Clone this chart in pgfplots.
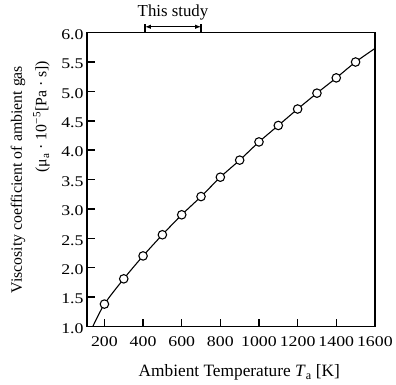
\documentclass[border=0pt]{standalone}
\usepackage{fontspec}
\setmainfont{Liberation Serif}
\newfontfamily\tickfont{Liberation Serif}[FakeStretch=1.2]
\usepackage{pgfplots}
\pgfplotsset{compat=1.18}
\usetikzlibrary{arrows.meta}
\pgfplotstableread{
T mu
200 1.38
300 1.81
400 2.20
500 2.56
600 2.90
700 3.21
800 3.54
900 3.83
1000 4.14
1100 4.42
1200 4.70
1300 4.97
1400 5.23
1500 5.50
}\datapts
\pgfplotstableread{
T mu
140 1.00
200 1.38
300 1.81
400 2.20
500 2.56
600 2.90
700 3.21
800 3.54
900 3.83
1000 4.14
1100 4.42
1200 4.70
1300 4.97
1400 5.23
1500 5.50
1600 5.73
}\curvepts
\begin{document}
\begin{tikzpicture}
\begin{axis}[
  scale only axis, width=291pt, height=297pt,
  xmin=110, xmax=1600, ymin=1, ymax=6,
  clip=false, axis on top,
  xtick={200,400,600,800,1000,1200,1400,1600},
  ytick={1,1.5,2,2.5,3,3.5,4,4.5,5,5.5,6},
  tick align=inside, xtick pos=bottom, ytick pos=left,
  major tick length=8pt,
  axis line style={line width=1.6pt},
  every tick/.style={black, line width=1.5pt},
  xticklabel style={font=\tickfont\fontsize{15}{17}\selectfont, yshift=-7pt, /pgf/number format/.cd, fixed, precision=0, 1000 sep={}, assume math mode=true},
  yticklabel style={font=\tickfont\fontsize{15}{17}\selectfont, yshift=-2pt, /pgf/number format/.cd, fixed, fixed zerofill, precision=1, assume math mode=true},
]
\addplot[smooth, line width=1.1pt, black] table[x=T, y=mu] {\curvepts};
\addplot[only marks, mark=*, mark size=4.3pt, mark options={fill=white, draw=black, line width=1.1pt}] table[x=T, y=mu] {\datapts};
\draw[line width=1.2pt] (axis cs:410,6) -- (axis cs:410,6.14);
\draw[line width=1.2pt] (axis cs:700,6) -- (axis cs:700,6.14);
\draw[line width=1pt, {Latex[length=6pt]}-{Latex[length=6pt]}] (axis cs:410,6.10) -- (axis cs:700,6.10);
\node[anchor=base, inner sep=0pt] at (axis cs:555,6.27) {\fontsize{17}{19}\selectfont This study};
\node[anchor=base, inner sep=0pt] at (rel axis cs:0.529,-0.1717) {\fontsize{17.5}{19}\selectfont Ambient Temperature \textit{T}\textsubscript{a} [K]};
\node[anchor=base, inner sep=0pt, rotate=90] at (rel axis cs:-0.2268,0.5) {\fontsize{16}{18}\selectfont Viscosity coefficient of ambient gas};
\node[anchor=base, inner sep=0pt, rotate=90] at (rel axis cs:-0.1409,0.714) {\fontsize{16}{18}\selectfont (μ\textsubscript{a} · 10\textsuperscript{−5}[Pa · s])};
\path (rel axis cs:-0.3024,-0.1987) rectangle (rel axis cs:1.0584,1.1111);
\end{axis}
\end{tikzpicture}
\end{document}
